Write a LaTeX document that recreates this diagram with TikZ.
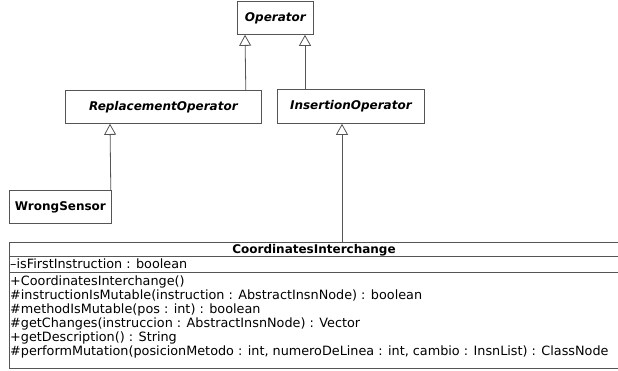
\documentclass[tikz,border=0pt]{standalone}
\usepackage{fontspec}
\setmainfont{DejaVu Sans}
\usetikzlibrary{calc, arrows.meta, positioning}
\definecolor{umlline}{RGB}{85,85,85}

\begin{document}
\begin{tikzpicture}[x=1pt, y=-1pt,
    inherit/.style={draw=umlline, line width=0.8pt, -{Triangle[open, length=11pt, width=12pt]}},
    abstractclass/.style={rectangle, draw=umlline, line width=0.8pt, anchor=north west,
        inner sep=0pt, font=\fontsize{12}{14}\selectfont\bfseries\itshape},
    concreteclass/.style={rectangle, draw=umlline, line width=0.8pt, anchor=north west,
        inner sep=0pt, font=\fontsize{12}{14}\selectfont\bfseries},
    member/.style={anchor=base west, inner sep=0pt, font=\fontsize{12.8}{14}\selectfont}
]
\useasboundingbox (0,0) rectangle (618,370);

\node (Operator) [abstractclass, minimum width=76pt, minimum height=33pt] at (237,1) {Operator};
\node (ReplacementOperator) [abstractclass, minimum width=196pt, minimum height=33pt] at (65,90) {ReplacementOperator};
\node (InsertionOperator) [abstractclass, minimum width=147pt, minimum height=34pt] at (277,89) {InsertionOperator};
\node (WrongSensor) [concreteclass, minimum width=102pt, minimum height=33pt] at (9,190) {WrongSensor};

% CoordinatesInterchange class box
\node (Coordinates) [concreteclass, minimum width=610pt, minimum height=126pt] at (9,242) {};
\draw[umlline, line width=0.8pt] (9,256) -- (619,256) (9,272) -- (619,272);
\node (CoordinatesName) [font=\fontsize{12}{14}\selectfont\bfseries, inner sep=0pt, anchor=base] at (314,253.5) {CoordinatesInterchange};
\node (isFirst) [member] at (10,268.5) {--isFirstInstruction : boolean};
\foreach \txt [count=\i] in {{+CoordinatesInterchange()},
    {\#instructionIsMutable(instruction : AbstractInsnNode) : boolean},
    {\#methodIsMutable(pos : int) : boolean},
    {\#getChanges(instruccion : AbstractInsnNode) : Vector},
    {+getDescription() : String},
    {\#performMutation(posicionMetodo : int, numeroDeLinea : int, cambio : InsnList) : ClassNode}}
  \node (op\i) [member] at (10,{271.5+14*\i}) {\txt};

\draw[inherit] ($(ReplacementOperator.north east)+(-16,0)$) -- ($(Operator.south west)+(8,0)$);
\draw[inherit] ($(InsertionOperator.north west)+(28,0)$) -- ($(Operator.south west)+(68,0)$);
\draw[inherit] ($(WrongSensor.north east)+(-1,0)$) -- ($(ReplacementOperator.south west)+(45,0)$);
\draw[inherit] ($(Coordinates.north west)+(333,0)$) -- ($(InsertionOperator.south west)+(65,0)$);

\end{tikzpicture}
\end{document}
